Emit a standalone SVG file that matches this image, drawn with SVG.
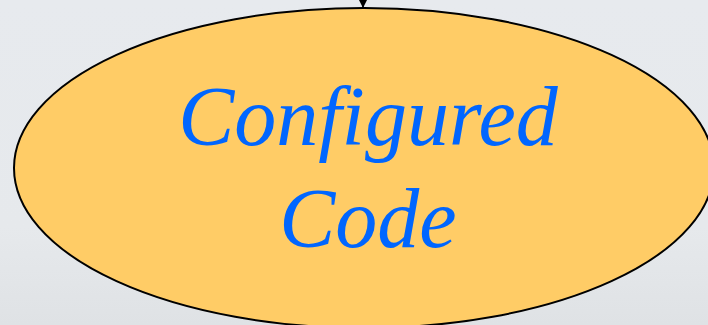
<svg xmlns="http://www.w3.org/2000/svg" width="708" height="325" viewBox="0 0 708 325">
<defs>
<linearGradient id="bg" x1="0" y1="0" x2="0" y2="1">
<stop offset="0" stop-color="#E7EAEE"/>
<stop offset="0.7" stop-color="#E6E9EC"/>
<stop offset="1" stop-color="#DFE2E5"/>
</linearGradient>
<marker id="ah" viewBox="0 0 10 10" refX="10" refY="5" markerWidth="9" markerHeight="9" markerUnits="userSpaceOnUse" orient="auto">
<path d="M0,0 L10,5 L0,10 z" fill="#000"/>
</marker>
<style>
.node{fill:#FFCC66;stroke:#000;stroke-width:2}
.lbl{font-family:"Liberation Serif",serif;font-style:italic;font-size:84px;fill:#0066FF;text-anchor:middle}
.conn{stroke:#000;stroke-width:1.5;fill:none}
</style>
</defs>
<rect width="708" height="325" fill="url(#bg)"/>
<g id="connectors">
<line class="conn" x1="363" y1="-10" x2="363" y2="8" marker-end="url(#ah)"/>
</g>
<g id="configured-code">
<ellipse class="node" cx="364" cy="168" rx="350" ry="160"/>
<text class="lbl" x="368" y="145">Configured</text>
<text class="lbl" x="368" y="247">Code</text>
</g>
</svg>
